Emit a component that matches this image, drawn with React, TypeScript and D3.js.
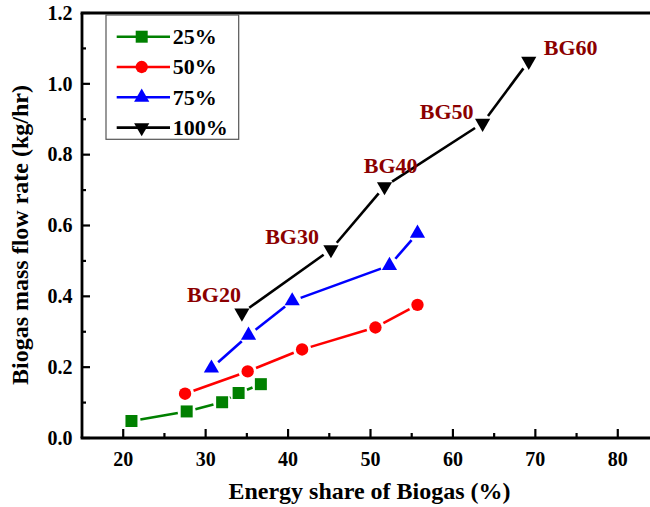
import React from "react";
import * as d3 from "d3";

// energy share of biogas (%) and biogas mass flow (kg/hr) per load
const share25 = [21.0, 27.7, 32.0, 34.0, 36.7];
const flow25 = [0.048, 0.075, 0.101, 0.127, 0.152];
const share50 = [27.5, 35.1, 41.7, 50.6, 55.7];
const flow50 = [0.125, 0.188, 0.25, 0.312, 0.376];
const share75 = [30.7, 35.2, 40.5, 52.3, 55.7];
const flow75 = [0.197, 0.29, 0.387, 0.487, 0.578];
const share100 = [34.4, 45.2, 51.7, 63.6, 69.2];
const flow100 = [0.353, 0.532, 0.71, 0.889, 1.064];

const blendLabels = ["BG20", "BG30", "BG40", "BG50", "BG60"];
const loadNames = ["25%", "50%", "75%", "100%"];
const xTicks = [20, 30, 40, 50, 60, 70, 80];
const yTicks = [0, 0.2, 0.4, 0.6, 0.8, 1.0, 1.2];

const FONT = "'Liberation Serif', 'Times New Roman', serif";

// label offsets from the 100% points (px)
const labelOffsets = [
  { dx: -1, dy: -11, anchor: "end" },
  { dx: -12, dy: -6, anchor: "end" },
  { dx: 33, dy: -14, anchor: "end" },
  { dx: -9, dy: -4, anchor: "end" },
  { dx: 15, dy: -6, anchor: "start" },
];

const series = [
  { name: loadNames[0], xs: share25, ys: flow25, color: "#008000", shape: "square" },
  { name: loadNames[1], xs: share50, ys: flow50, color: "#ff0000", shape: "circle" },
  { name: loadNames[2], xs: share75, ys: flow75, color: "#0000ff", shape: "up" },
  { name: loadNames[3], xs: share100, ys: flow100, color: "#000000", shape: "down" },
];

function markerPath(shape: string) {
  if (shape === "square") return d3.symbol(d3.symbolSquare, 144)()!;
  if (shape === "circle") return d3.symbol(d3.symbolCircle, 120)()!;
  return d3.symbol(d3.symbolTriangle, 100)()!;
}

function Marker({ x, y, shape, color }: any) {
  const rot = shape === "down" ? ` rotate(180)` : "";
  return <path d={markerPath(shape)} transform={`translate(${x},${y})${rot}`} fill={color} />;
}

export default function App() {
  const width = 650;
  const height = 507;
  const x = d3.scaleLinear().domain([15, 85]).range([82, 659]);
  const y = d3.scaleLinear().domain([0, 1.2]).range([438, 13]);
  const x0 = x.range()[0];
  const y0 = y.range()[0];
  const gap = 9;

  const xMinor = d3.range(25, 85, 10);
  const yMinor = d3.range(0.1, 1.2, 0.2);

  return (
    <svg
      width={width}
      height={height}
      style={{ position: "absolute", left: 0, top: 0, background: "#fff" }}
      fontFamily={FONT}
      fontWeight="bold"
    >
      <rect width={width} height={height} fill="#fff" />

      {/* series lines with gaps around markers */}
      {series.map((s) =>
        s.xs.slice(1).map((_, i) => {
          const ax = x(s.xs[i]), ay = y(s.ys[i]);
          const bx = x(s.xs[i + 1]), by = y(s.ys[i + 1]);
          const len = Math.hypot(bx - ax, by - ay);
          const ux = (bx - ax) / len, uy = (by - ay) / len;
          return (
            <line
              key={s.name + i}
              x1={ax + ux * gap}
              y1={ay + uy * gap}
              x2={bx - ux * gap}
              y2={by - uy * gap}
              stroke={s.color}
              strokeWidth={2.6}
            />
          );
        })
      )}
      {series.map((s) =>
        s.xs.map((v, i) => (
          <Marker key={s.name + "m" + i} x={x(v)} y={y(s.ys[i])} shape={s.shape} color={s.color} />
        ))
      )}

      {/* BG labels */}
      {blendLabels.map((t, i) => (
        <text
          key={t}
          x={x(share100[i]) + labelOffsets[i].dx}
          y={y(flow100[i]) + labelOffsets[i].dy}
          textAnchor={labelOffsets[i].anchor}
          fontSize={22}
          fill="#8b0000"
        >
          {t}
        </text>
      ))}

      {/* frame */}
      <line x1={x0} x2={x0} y1={y.range()[1]} y2={y0} stroke="#000" strokeWidth={2.8} />
      <line x1={x0 - 1.4} x2={x.range()[1]} y1={y0} y2={y0} stroke="#000" strokeWidth={2.8} />
      <line x1={x0 - 1.4} x2={x.range()[1]} y1={y.range()[1]} y2={y.range()[1]} stroke="#000" strokeWidth={2.8} />
      <line x1={x.range()[1]} x2={x.range()[1]} y1={y.range()[1]} y2={y0} stroke="#000" strokeWidth={2.8} />

      {/* x ticks */}
      {xTicks.map((t) => (
        <g key={"xt" + t}>
          <line x1={x(t)} x2={x(t)} y1={y0} y2={y0 - 9} stroke="#000" strokeWidth={2.2} />
          <text x={x(t)} y={466} textAnchor="middle" fontSize={20}>
            {t}
          </text>
        </g>
      ))}
      {xMinor.map((t) => (
        <line key={"xm" + t} x1={x(t)} x2={x(t)} y1={y0} y2={y0 - 5} stroke="#000" strokeWidth={2.2} />
      ))}

      {/* y ticks */}
      {yTicks.map((t) => (
        <g key={"yt" + t}>
          <line x1={x0} x2={x0 + 8} y1={y(t)} y2={y(t)} stroke="#000" strokeWidth={2.2} />
          <text x={72.5} y={y(t) + 6.7} textAnchor="end" fontSize={20}>
            {t.toFixed(1)}
          </text>
        </g>
      ))}
      {yMinor.map((t) => (
        <line key={"ym" + t} x1={x0} x2={x0 + 4} y1={y(t)} y2={y(t)} stroke="#000" strokeWidth={2.2} />
      ))}

      {/* axis titles */}
      <text x={369.5} y={499} textAnchor="middle" fontSize={24}>
        Energy share of Biogas (%)
      </text>
      <text transform="translate(28,235) rotate(-90)" textAnchor="middle" fontSize={24}>
        Biogas mass flow rate (kg/hr)
      </text>

      {/* legend */}
      <rect x={106} y={15} width={132.7} height={124.3} fill="#fff" stroke="#555" strokeWidth={1.2} />
      {series.map((s, i) => {
        const ry = 36.7 + i * 30.3;
        return (
          <g key={"lg" + s.name}>
            <line x1={116.7} x2={170} y1={ry} y2={ry} stroke={s.color} strokeWidth={2.6} />
            <Marker x={141.7} y={ry} shape={s.shape} color={s.color} />
            <text x={172.7} y={ry + 7.3} fontSize={22}>
              {s.name}
            </text>
          </g>
        );
      })}
    </svg>
  );
}
